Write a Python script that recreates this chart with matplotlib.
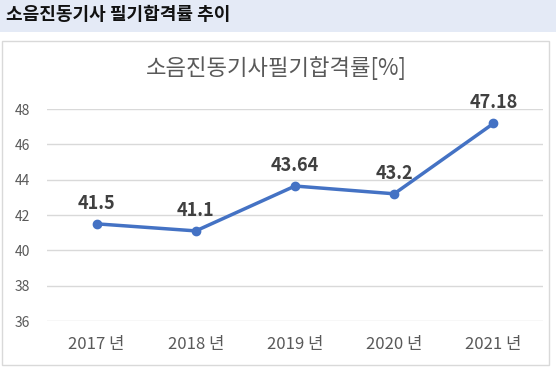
import matplotlib.pyplot as plt
from matplotlib.patches import Rectangle

plt.rcParams['font.family'] = ['Noto Sans CJK KR', 'DejaVu Sans']

years = ['2017 년', '2018 년', '2019 년', '2020 년', '2021 년']
rates = [41.5, 41.1, 43.64, 43.2, 47.18]
rate_labels = ['41.5', '41.1', '43.64', '43.2', '47.18']
y_ticks = [36, 38, 40, 42, 44, 46, 48]

fig = plt.figure(figsize=(5.56, 3.82), dpi=100)

# header band
fig.patches.append(Rectangle((0, 1 - 32/382), 1, 32/382, transform=fig.transFigure,
                             facecolor='#e4eaf6', edgecolor='none', zorder=-2))
fig.text(6/556, 1 - 15/382, '소음진동기사 필기합격률 추이', fontsize=13, fontweight='bold',
         color='#111111', va='center', ha='left')

# chart box
fig.patches.append(Rectangle((2/556, 1 - 365/382), 547/556, 324/382, transform=fig.transFigure,
                             facecolor='white', edgecolor='#d9d9d9', linewidth=1, zorder=-2))
fig.text(276/556, 1 - 68/382, '소음진동기사필기합격률[%]', fontsize=16, color='#595959',
         fontweight='light', ha='center', va='center')

ax = fig.add_axes([47/556, 1 - 321/382, 496/556, 212/382])
ax.set_facecolor('none')
x = list(range(len(years)))
ax.plot(x, rates, color='#4472c4', linewidth=2.5, marker='o', markersize=6, zorder=3)
for i, v in enumerate(rates):
    ax.annotate(rate_labels[i], (i, v), xytext=(0, 8), textcoords='offset points',
                ha='center', va='bottom', fontsize=13, fontweight='bold', color='#404040')

ax.set_xlim(-0.5, len(years) - 0.5)
ax.set_ylim(36, 48)
ax.set_yticks(y_ticks)
ax.set_xticks(x)
ax.set_xticklabels(years, fontsize=12, color='#595959')
ax.tick_params(axis='y', labelsize=10, labelcolor='#595959', length=0, pad=12)
ax.tick_params(axis='x', length=0, pad=11)
ax.grid(axis='y', color='#d9d9d9', linewidth=1)
ax.set_axisbelow(True)
for s in ax.spines.values():
    s.set_visible(False)

fig.savefig('out.png', dpi=100)
